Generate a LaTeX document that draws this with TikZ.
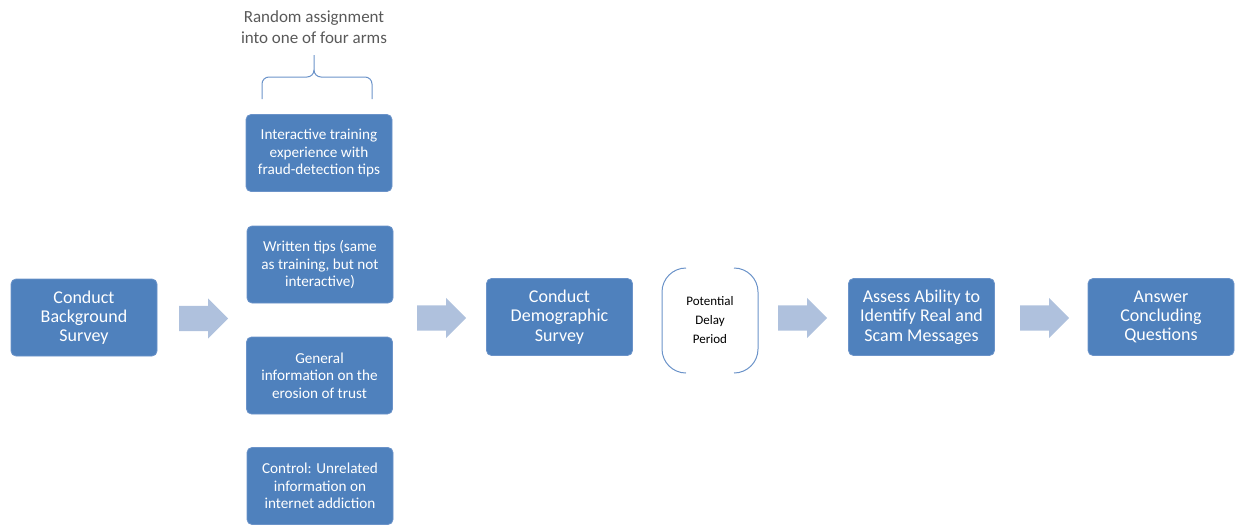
\documentclass[tikz,border=0pt]{standalone}
\usepackage{fontspec}
\setmainfont{Carlito}
\usetikzlibrary{shapes.arrows}
\definecolor{boxblue}{HTML}{4F81BD}
\definecolor{boxline}{HTML}{6B93C9}
\definecolor{arrowblue}{HTML}{AFC1DD}
\definecolor{textgray}{HTML}{595959}
\tikzset{
  stepbox/.style={draw=boxline,fill=boxblue,rounded corners=5pt,line width=.8pt,
    text=white,align=center,minimum width=146pt,minimum height=77pt,inner sep=2pt,
    font=\fontsize{18}{19.3}\selectfont},
  armbox/.style={stepbox,font=\fontsize{15.2}{17.3}\selectfont},
  flowarrow/.style={single arrow,fill=arrowblue,draw=none,minimum width=40pt,
    single arrow head extend=7.5pt,minimum height=49pt,inner xsep=0pt,inner ysep=12.5pt,
    anchor=tail},
}
\begin{document}
\begin{tikzpicture}[x=1pt,y=-1pt]
\path[use as bounding box] (0,0) rectangle (1239,525);
% main steps
\node[stepbox] (background) at (84,317.5) {Conduct\\Background\\Survey};
\node[armbox] (arm1) at (319,153) {Interactive training\\experience with\\fraud-detection tips};
\node[armbox] (arm2) at (320,264.5) {Written tips (same\\as training, but not\\interactive)};
\node[armbox] (arm3) at (319.5,375.5) {General\\information on the\\erosion of trust};
\node[armbox] (arm4) at (320,486) {Control: Unrelated\\information on\\internet addiction};
\node[stepbox] (demographic) at (559.5,317) {Conduct\\Demographic\\Survey};
\node[align=center,font=\fontsize{13}{19}\selectfont] (delay) at (710,320) {Potential\\Delay\\Period};
\node[stepbox] (assess) at (921.5,317) {Assess Ability to\\Identify Real and\\Scam Messages};
\node[stepbox] (answer) at (1161,317) {Answer\\Concluding\\Questions};
% block arrows
\node[flowarrow] (arrowA) at (179,318.5) {};
\node[flowarrow] (arrowB) at (417,318) {};
\node[flowarrow] (arrowC) at (778,318) {};
\node[flowarrow] (arrowD) at (1020,318) {};
% delay brackets
\draw[boxline,line width=1pt,rounded corners=24pt] (686,268) -- (662,268) -- (662,373) -- (686,373);
\draw[boxline,line width=1pt,rounded corners=24pt] (734,268) -- (758,268) -- (758,373) -- (734,373);
% random assignment brace
\node[align=center,text=textgray,font=\fontsize{17}{21}\selectfont] (random) at (314,27) {Random assignment\\into one of four arms};
\draw[boxline,line width=1pt] (262,99) -- (262,84) to[out=90,in=180] (269,77) -- (307,77)
  to[out=0,in=-90] (314,70) -- (314,55);
\draw[boxline,line width=1pt] (372,99) -- (372,84) to[out=90,in=0] (365,77) -- (321,77)
  to[out=180,in=-90] (314,70);
\end{tikzpicture}
\end{document}
